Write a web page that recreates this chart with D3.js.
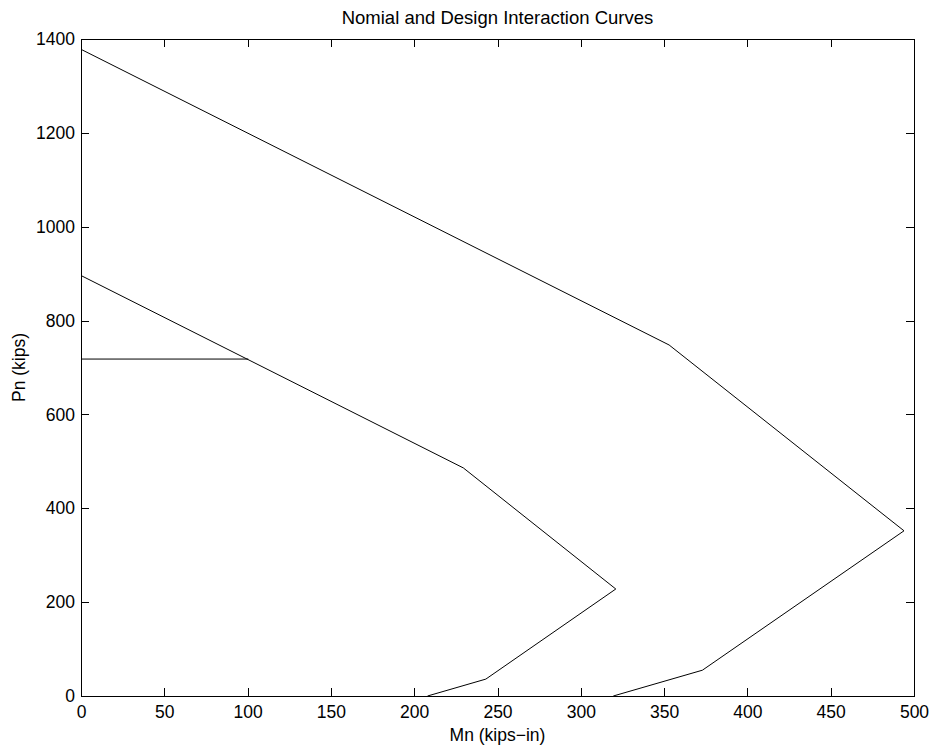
<!DOCTYPE html>
<html>
<head>
<meta charset="utf-8">
<script src="https://cdn.jsdelivr.net/npm/d3@7"></script>
<style>
  body { margin: 0; background: #fff; }
  text { font-family: "Liberation Sans", Arial, Helvetica, sans-serif; fill: #000; }
</style>
</head>
<body>
<svg id="chart" width="933" height="746"></svg>
<script>
// Data
const nominalM = [0, 353, 494, 373, 319.5];
const nominalP = [1378, 748, 352, 55, 0];
const designM  = [0, 229.5, 321, 243, 208];
const designP  = [896, 486, 228, 36, 0];
const capM = [0, 100.4];
const capP = [718, 718];
const xTicks = [0, 50, 100, 150, 200, 250, 300, 350, 400, 450, 500];
const yTicks = [0, 200, 400, 600, 800, 1000, 1200, 1400];
const titleText = "Nomial and Design Interaction Curves";
const xLabel = "Mn (kips\u2212in)";
const yLabel = "Pn (kips)";

const svg = d3.select("#chart");
const L = 81, R = 914, T = 39, B = 696;
const x = d3.scaleLinear().domain([0, 500]).range([L, R]);
const y = d3.scaleLinear().domain([0, 1400]).range([B, T]);

const tickLen = 8;
const fs = 17.5;

// axes
const gx = svg.append("g").attr("transform", `translate(0,${B})`)
  .call(d3.axisBottom(x).tickValues(xTicks).tickSize(-tickLen).tickPadding(10).tickFormat(d3.format("d")));
const gxt = svg.append("g").attr("transform", `translate(0,${T})`)
  .call(d3.axisTop(x).tickValues(xTicks).tickSize(-tickLen).tickFormat(""));
const gy = svg.append("g").attr("transform", `translate(${L},0)`)
  .call(d3.axisLeft(y).tickValues(yTicks).tickSize(-tickLen).tickPadding(6).tickFormat(d3.format("d")));
const gyr = svg.append("g").attr("transform", `translate(${R},0)`)
  .call(d3.axisRight(y).tickValues(yTicks).tickSize(-tickLen).tickFormat(""));

[gx, gxt, gy, gyr].forEach(g => {
  g.select(".domain").remove();
  g.selectAll(".tick line").attr("stroke", "#000").attr("stroke-width", 1).attr("shape-rendering", "crispEdges");
  g.selectAll(".tick text").attr("font-size", fs).attr("font-family", "Liberation Sans, Arial, sans-serif").attr("fill", "#000");
});
svg.append("rect").attr("x", L).attr("y", T).attr("width", R - L).attr("height", B - T)
  .attr("fill", "none").attr("stroke", "#000").attr("stroke-width", 1).attr("shape-rendering", "crispEdges");

// curves
const line = d3.line().x(d => x(d[0])).y(d => y(d[1]));
const series = [
  d3.zip(nominalM, nominalP),
  d3.zip(designM, designP),
  d3.zip(capM, capP)
];
svg.append("g").selectAll("path").data(series).join("path")
  .attr("d", line).attr("fill", "none").attr("stroke", "#000").attr("stroke-width", 1);

// title & labels
svg.append("text").attr("x", (L + R) / 2).attr("y", 24).attr("text-anchor", "middle")
  .attr("font-size", 18.5).text(titleText);
svg.append("text").attr("x", (L + R) / 2).attr("y", 741).attr("text-anchor", "middle")
  .attr("font-size", fs).text(xLabel);
svg.append("text").attr("transform", `translate(25,${(T + B) / 2}) rotate(-90)`).attr("text-anchor", "middle")
  .attr("font-size", fs).text(yLabel);
</script>
</body>
</html>
